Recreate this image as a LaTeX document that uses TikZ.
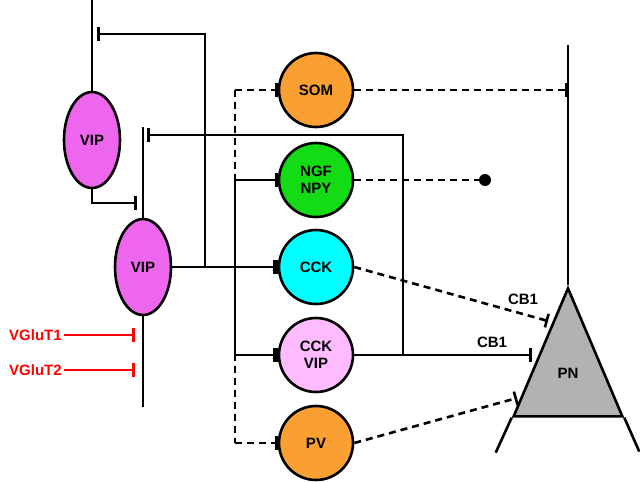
\documentclass[tikz,border=0pt]{standalone}
\usepackage{fontspec}
\setmainfont{Liberation Sans}
\usetikzlibrary{arrows.meta,shapes.geometric}
\definecolor{vipc}{RGB}{238,102,238}
\definecolor{cvc}{RGB}{255,187,255}
\definecolor{orc}{RGB}{250,160,50}
\definecolor{grc}{RGB}{20,220,20}
\definecolor{cyc}{RGB}{0,255,255}
\begin{document}
\begin{tikzpicture}[x=1pt,y=-1pt,line width=2.6pt,
  lbl/.style={font=\bfseries\fontsize{15}{17}\selectfont},
  cell/.style={circle,draw,line width=2.6pt,minimum size=74pt,inner sep=0pt,align=center,font=\bfseries\fontsize{15}{17}\selectfont},
  vip/.style={ellipse,draw,fill=vipc,line width=2.6pt,minimum width=56pt,minimum height=96pt,inner sep=0pt,font=\bfseries\fontsize{15}{17}\selectfont},
  inh/.style={-{Bar[width=14pt]}},
  thk/.style={-{Bar[width=14pt,line width=5pt]}},
  dsh/.style={dash pattern=on 7pt off 5pt}]
\useasboundingbox (0,0) rectangle (640,482);
\node[vip] (v1) at (92,140) {VIP};
\node[vip] (v2) at (143,267) {VIP};
\node[cell,fill=orc] (som) at (316,90) {SOM};
\node[cell,fill=grc] (ngf) at (316,180) {NGF\\NPY};
\node[cell,fill=cyc] (cck) at (316,267) {CCK};
\node[cell,fill=cvc] (cv) at (316,355) {CCK\\VIP};
\node[cell,fill=orc] (pv) at (316,443) {PV};
\node[isosceles triangle,isosceles triangle apex angle=46,shape border rotate=90,draw,fill=gray!60,line width=2.6pt,minimum height=128pt,inner sep=0pt,anchor=apex] (pn) at (568,285) {};
\node[lbl] at (568,373) {PN};
\draw (pn.left corner) -- ++(-16,35);
\draw (pn.right corner) -- ++(15,34);
\coordinate (pt) at (568,45);
\draw (pt) -- (pn.apex);
% VIP1
\coordinate (t1) at (92,0);
\draw (t1) -- (v1.north);
\coordinate (j1) at (205,267);
\coordinate (b1) at (97,34);
\draw[inh] (j1) |- (b1);
\coordinate (b2) at (137,203);
\draw[inh] (v1.south) |- (b2);
% VIP2
\coordinate (t2) at (143,127);
\draw (v2.north) -- (t2);
\coordinate (bb) at (143,407);
\draw (v2.south) -- (bb);
\coordinate (r1) at (403,355);
\coordinate (b3) at (147,135);
\draw[inh] (r1) |- (b3);
\draw (v2.east) -- (j1);
\draw[thk] (j1) -- (cck.west);
\coordinate (s1) at (235,180);
\draw (s1) -- (235,355);
\draw[inh] (s1) -- (ngf.west);
\draw[thk] (235,355) -- (cv.west);
\draw[dsh] (235,90) -- (235,443);
\draw[dsh,inh] (235,90) -- (som.west);
\draw[dsh,inh] (235,443) -- (pv.west);
% VGluT
\node[lbl,text=red,anchor=east,inner sep=1pt] (g1) at (64,335) {VGluT1};
\node[lbl,text=red,anchor=east,inner sep=1pt] (g2) at (64,370) {VGluT2};
\coordinate (g1e) at (135,335);
\coordinate (g2e) at (135,370);
\draw[red,inh] (g1) -- (g1e);
\draw[red,inh] (g2) -- (g2e);
% outputs
\coordinate (sm) at (568,90);
\draw[dsh,inh] (som.east) -- (sm);
\coordinate (dot) at (485,180);
\draw[dsh] (ngf.east) -- (dot);
\fill (dot) circle (6pt);
\coordinate (c1) at (548,321);
\draw[dsh,inh] (cck.east) -- (c1);
\coordinate (c2) at (532,355);
\draw[inh] (cv.east) -- (c2);
\coordinate (c3) at (517,398);
\draw[dsh,inh] (pv.east) -- (c3);
\node[lbl] at (523,299) {CB1};
\node[lbl] at (492,342) {CB1};
\end{tikzpicture}
\end{document}
